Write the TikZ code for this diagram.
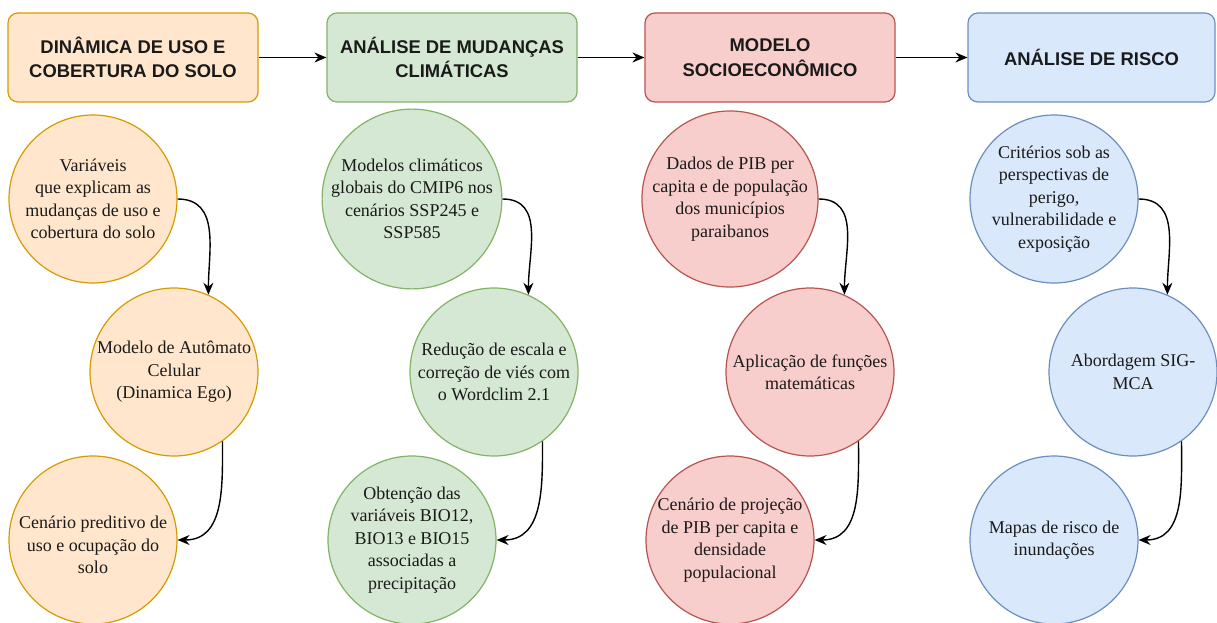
\documentclass[tikz,border=0pt]{standalone}
\usepackage{fontspec}
\setmainfont{Liberation Serif}
\setsansfont{Liberation Sans}
\usetikzlibrary{arrows.meta}
\definecolor{orF}{HTML}{FFE6CC}\definecolor{orD}{HTML}{D79B00}
\definecolor{grF}{HTML}{D5E8D4}\definecolor{grD}{HTML}{82B366}
\definecolor{rdF}{HTML}{F8CECC}\definecolor{rdD}{HTML}{B85450}
\definecolor{blF}{HTML}{DAE8FC}\definecolor{blD}{HTML}{6C8EBF}
\definecolor{txt}{HTML}{1A1A1A}
\tikzset{
  head/.style={draw, line width=1.2pt, rounded corners=10pt, minimum height=89pt, inner sep=0pt,
    align=center, text=txt, font=\sffamily\bfseries\fontsize{18.4}{24.5}\selectfont},
  bub/.style={draw, circle, line width=1.2pt, minimum size=168pt, inner sep=0pt,
    align=center, text=txt, font=\fontsize{18}{22.5}\selectfont},
  orS/.style={fill=orF, draw=orD}, grS/.style={fill=grF, draw=grD},
  rdS/.style={fill=rdF, draw=rdD}, blS/.style={fill=blF, draw=blD},
  flow/.style={line width=1.4pt, black, -{Stealth[length=12pt,width=10pt,inset=4pt]}}
}
\begin{document}
\begin{tikzpicture}[x=1pt,y=-1pt]
\useasboundingbox (0,0) rectangle (1217,623);
% headers
\node[head, orS, minimum width=250pt] (h1) at (133,57.5) {DINÂMICA DE USO E\\COBERTURA DO SOLO};
\node[head, grS, minimum width=250pt] (h2) at (452,57.5) {ANÁLISE DE MUDANÇAS\\CLIMÁTICAS};
\node[head, rdS, minimum width=250pt] (h3) at (770,57.5) {MODELO\\SOCIOECONÔMICO};
\node[head, blS, minimum width=247pt] (h4) at (1091.5,57.5) {ANÁLISE DE RISCO};
\draw[flow] (h1) -- (h2);
\draw[flow] (h2) -- (h3);
\draw[flow] (h3) -- (h4);
% column 1
\node[bub, orS] (a1) at (93,199) {Variáveis\\que explicam as\\mudanças de uso e\\cobertura do solo};
\node[bub, orS] (a2) at (174,372) {Modelo de Autômato\\Celular\\(Dinamica Ego)};
\node[bub, orS] (a3) at (93,540) {\mbox{}\\Cenário preditivo de\\uso e ocupação do\\solo};
% column 2
\node[bub, grS] (b1) at (412,199) {Modelos climáticos\\globais do CMIP6 nos\\cenários SSP245 e\\SSP585};
\node[bub, grS] (b2) at (494,372) {Redução de escala e\\correção de viés com\\o Wordclim 2.1};
\node[bub, grS] (b3) at (412,540) {Obtenção das\\variáveis BIO12,\\BIO13 e BIO15\\associadas a\\precipitação};
% column 3
\node[bub, rdS] (c1) at (730,199) {Dados de PIB per\\capita e de população\\dos municípios\\paraibanos};
\node[bub, rdS] (c2) at (810,372) {Aplicação de funções\\matemáticas};
\node[bub, rdS] (c3) at (730,540) {Cenário de projeção\\de PIB per capita e\\densidade\\populacional};
% column 4
\node[bub, blS] (d1) at (1054,199) {Critérios sob as\\perspectivas de\\perigo,\\vulnerabilidade e\\exposição};
\node[bub, blS] (d2) at (1133,372) {Abordagem SIG-\\MCA};
\node[bub, blS] (d3) at (1054,540) {Mapas de risco de\\inundações};
% curved connectors
\foreach \p/\q/\r in {a1/a2/a3, b1/b2/b3, c1/c2/c3, d1/d2/d3}{
  \draw[flow] (\p.east) to[out=0,in=90,looseness=1.1] (\q.66);
  \draw[flow] (\q.-55) to[out=-90,in=0,looseness=1.1] (\r.east);
}
\end{tikzpicture}
\end{document}
